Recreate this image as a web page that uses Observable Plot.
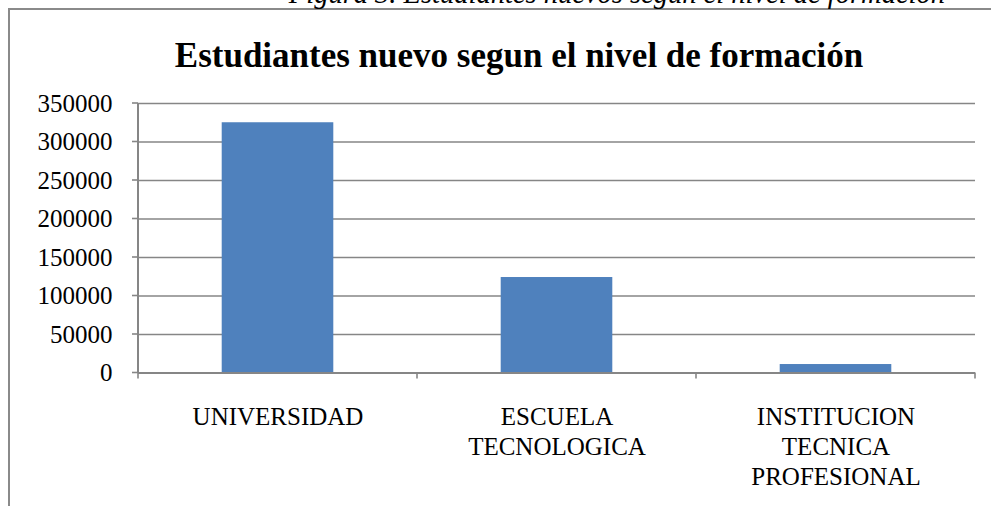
<!DOCTYPE html>
<html>
<head>
<meta charset="utf-8">
<script src="https://cdn.jsdelivr.net/npm/d3@7"></script>
<script src="https://cdn.jsdelivr.net/npm/@observablehq/plot@0.6"></script>
<style>
  html, body { margin: 0; padding: 0; background: #fff; overflow: hidden; }
  #wrap { position: relative; width: 991px; height: 506px; overflow: hidden; font-family: "Liberation Serif", "Times New Roman", serif; }
  #frame { position: absolute; left: 8px; top: 8px; width: 1000px; height: 600px; border-left: 2.5px solid #8a8a8a; border-top: 2.5px solid #8a8a8a; box-sizing: border-box; }
  #caption { position: absolute; right: 46px; top: -22px; font-size: 28.5px; font-style: italic; line-height: normal; color: #000; white-space: nowrap; }
  #title { position: absolute; left: 0; width: 1038px; text-align: center; top: 36px; font-size: 35px; font-weight: bold; line-height: normal; color: #000; white-space: nowrap; }
  #chart { position: absolute; left: 0; top: 0; }
</style>
</head>
<body>
<div id="wrap">
  <div id="frame"></div>
  <div id="caption">Figura 3. Estudiantes nuevos según el nivel de formación</div>
  <div id="title">Estudiantes nuevo segun el nivel de formación</div>
  <div id="chart"></div>
</div>
<script>
const categories = ["UNIVERSIDAD", "ESCUELA TECNOLOGICA", "INSTITUCION TECNICA PROFESIONAL"];
const categoryLabels = ["UNIVERSIDAD", "ESCUELA\nTECNOLOGICA", "INSTITUCION\nTECNICA\nPROFESIONAL"];
const values = [325000, 124000, 11000];
const yTicks = [0, 50000, 100000, 150000, 200000, 250000, 300000, 350000];

const data = categories.map((c, i) => ({category: c, label: categoryLabels[i], value: values[i]}));
const gray = "#868686";
const serif = "Liberation Serif";

const plot = Plot.plot({
  width: 991,
  height: 506,
  marginTop: 103,
  marginBottom: 133.5,
  marginLeft: 138,
  marginRight: 16,
  style: {fontFamily: serif, fontSize: "25px", color: "#000", background: "transparent", overflow: "visible"},
  x: {domain: categories, paddingInner: 0.6, paddingOuter: 0.3, round: false, axis: null},
  y: {domain: [0, 350000], ticks: yTicks, tickSize: 0, tickPadding: 26, tickFormat: d => String(d), label: null},
  marks: [
    Plot.ruleY(yTicks, {stroke: gray, strokeWidth: 1.6}),
    Plot.barY(data, {x: "category", y: "value", fill: "#4F81BD"}),
    Plot.ruleY([0], {stroke: gray, strokeWidth: 2}),
    Plot.text(data, {x: "category", text: "label", frameAnchor: "bottom", lineAnchor: "top", lineHeight: 1.2, dy: 31, fill: "#000", fontSize: 25})
  ]
});
document.getElementById("chart").appendChild(plot);

d3.select(plot).selectAll("g, text, tspan")
  .attr("font-family", serif)
  .style("font-family", serif);

// Axis line and tick marks in grey, placed through the plot's own scales
const xs = plot.scale("x");
const ys = plot.scale("y");
const y = d3.scaleLinear(ys.domain, ys.range);
const n = xs.domain.length;
const pi = xs.paddingInner ?? 0.6, po = xs.paddingOuter ?? 0.3;
const r0 = xs.range[0], r1 = xs.range[1];
const step = (r1 - r0) / (n - pi + 2 * po);
const bounds = d3.range(n + 1).map(i => r0 + (po - pi / 2) * step + i * step);
const g = d3.select(plot).append("g").attr("stroke", gray).attr("stroke-width", 1.6);
g.append("line").attr("x1", r0).attr("x2", r0).attr("y1", y(350000)).attr("y2", y(0)).attr("stroke-width", 2);
g.selectAll("line.yt").data(yTicks).join("line").attr("class", "yt")
  .attr("x1", r0 - 6).attr("x2", r0).attr("y1", d => y(d)).attr("y2", d => y(d));
g.selectAll("line.xt").data(bounds).join("line").attr("class", "xt")
  .attr("x1", d => d).attr("x2", d => d).attr("y1", y(0)).attr("y2", y(0) + 6);
</script>
</body>
</html>
